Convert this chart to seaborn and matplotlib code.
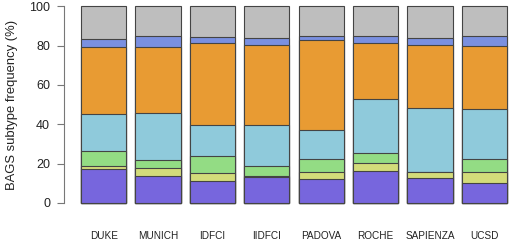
import numpy as np
import pandas as pd
import matplotlib
matplotlib.use("Agg")
import matplotlib.pyplot as plt
import seaborn as sns

cohorts = ["DUKE", "MUNICH", "IDFCI", "IIDFCI", "PADOVA", "ROCHE", "SAPIENZA", "UCSD"]
subtypes = ["BAGS1", "BAGS2", "BAGS3", "BAGS4", "BAGS5", "BAGS6", "BAGS7"]

# segment heights (%) per subtype, bottom to top, one value per cohort
bags1 = [17.2, 13.8, 11.0, 13.1, 11.9, 16.1, 12.6, 9.9]
bags2 = [1.6, 4.0, 4.0, 0.3, 3.9, 4.0, 3.0, 5.9]
bags3 = [7.5, 3.8, 8.8, 5.4, 6.3, 5.2, 0.0, 6.3]
bags4 = [18.9, 23.9, 15.9, 20.6, 15.1, 27.7, 32.8, 25.5]
bags5 = [33.9, 33.8, 41.8, 40.7, 45.6, 28.2, 32.1, 32.3]
bags6 = [4.4, 5.7, 3.0, 3.9, 2.1, 3.7, 3.2, 5.0]
bags7 = [16.5, 15.0, 15.5, 16.0, 15.1, 15.1, 16.3, 15.1]

colors = ["#7766DD", "#D3DC7A", "#93DC84", "#8FCADB", "#E89B33", "#7A90E0", "#BEBEBE"]

segs = np.array([bags1, bags2, bags3, bags4, bags5, bags6, bags7])
tops = np.cumsum(segs, axis=0)
tops = tops / tops[-1] * 100

rows = []
for i, s in enumerate(subtypes):
    for j, c in enumerate(cohorts):
        rows.append({"cohort": c, "subtype": s, "top": tops[i, j]})
df = pd.DataFrame(rows)

sns.set_style("white")
plt.rcParams["font.family"] = ["Liberation Sans", "DejaVu Sans"]

fig = plt.figure(figsize=(5.2, 2.41), dpi=100)
ax = fig.add_axes([64 / 520, 0.126, 460 / 520, 0.880])

# draw tallest (cumulative) first so lower segments sit on top
for i in range(len(subtypes) - 1, -1, -1):
    sns.barplot(data=df[df["subtype"] == subtypes[i]], x="cohort", y="top",
                order=cohorts, color=colors[i], saturation=1, width=0.833,
                edgecolor="#444444", linewidth=0.8, errorbar=None, ax=ax)

ax.set_xlim(-0.73, 7.73)
ax.set_ylim(-4, 104)
ax.set_yticks([0, 20, 40, 60, 80, 100])
ax.set_xlabel("")
ax.set_ylabel("BAGS subtype frequency (%)", fontsize=9.4, color="#222222")
ax.yaxis.set_label_coords(-46 / 460, 0.5)
for sp in ["top", "right", "bottom"]:
    ax.spines[sp].set_visible(False)
ax.spines["left"].set_bounds(0, 100)
ax.spines["left"].set_color("#777777")
ax.spines["left"].set_linewidth(0.8)
ax.tick_params(axis="y", length=5, width=0.8, color="#777777", pad=5,
               labelsize=9, labelcolor="#222222", left=True)
ax.tick_params(axis="x", length=0, pad=15, labelsize=7.2, labelcolor="#222222")

fig.savefig("out.png", dpi=100)
